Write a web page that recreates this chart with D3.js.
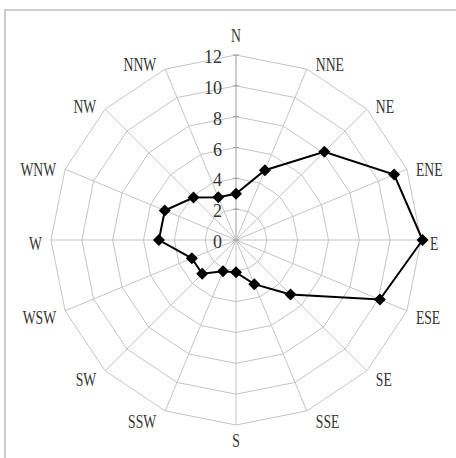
<!DOCTYPE html>
<html>
<head>
<meta charset="utf-8">
<script src="https://cdn.jsdelivr.net/npm/d3@7"></script>
<style>
  body { margin: 0; background: #fff; }
</style>
</head>
<body>
<svg id="chart" width="456" height="458"></svg>
<script>
// wind directions, clockwise from north
var directions = ["N", "NNE", "NE", "ENE", "E", "ESE", "SE", "SSE",
                  "S", "SSW", "SW", "WSW", "W", "WNW", "NW", "NNW"]
var frequency = [3, 4.9, 8.1, 11.1, 12.1, 10.1, 5, 3.1,
                 2.1, 2.2, 3.1, 3.1, 5, 5, 3.9, 3]
var ticks = [0, 2, 4, 6, 8, 10, 12]

var cx = 236, cy = 240, outer = 185
var serif = "'Liberation Serif', 'DejaVu Serif', serif"

var svg = d3.select("#chart")

// the frame, only left and top show
svg.append("rect")
    .attr("x", 5).attr("y", 10)
    .attr("width", 470).attr("height", 470)
    .attr("fill", "none")
    .attr("stroke", "#cccccc")
    .attr("stroke-width", 2)

var r = d3.scaleLinear().domain([0, 12]).range([0, outer])
var angle = d3.scaleLinear().domain([0, directions.length]).range([0, 2 * Math.PI])

var g = svg.append("g").attr("transform", "translate(" + cx + "," + cy + ")")

function px(a, rad) { return rad * Math.sin(a) }
function py(a, rad) { return -rad * Math.cos(a) }

// rings
var ring = d3.lineRadial()
    .angle(function (d, i) { return angle(i) })
    .curve(d3.curveLinearClosed)

ticks.filter(function (t) { return t > 0 }).forEach(function (t) {
  g.append("path")
      .attr("d", ring.radius(r(t))(directions))
      .attr("fill", "none")
      .attr("stroke", "#c4c4c4")
      .attr("stroke-width", 1)
})

// spokes
g.selectAll("line.spoke")
  .data(directions)
  .enter().append("line")
    .attr("class", "spoke")
    .attr("x1", 0).attr("y1", 0)
    .attr("x2", function (d, i) { return px(angle(i), outer) })
    .attr("y2", function (d, i) { return py(angle(i), outer) })
    .attr("stroke", function (d, i) { return i == 0 ? "#9a9a9a" : "#c4c4c4" })
    .attr("stroke-width", 1)

// value axis ticks + labels on the north spoke
ticks.forEach(function (t) {
  g.append("line")
      .attr("x1", -3).attr("x2", 3)
      .attr("y1", -r(t)).attr("y2", -r(t))
      .attr("stroke", "#9a9a9a")
  g.append("text")
      .attr("x", -14)
      .attr("y", -r(t) + 8)
      .attr("text-anchor", "end")
      .attr("font-family", serif)
      .attr("font-size", 18)
      .attr("fill", "#333")
      .text(t)
})

// direction labels
directions.forEach(function (name, i) {
  var a = angle(i)
  var s = Math.sin(a), c = Math.cos(a)
  var x = px(a, outer), y = py(a, outer)
  var anchor = "middle"
  if (Math.abs(s) < 0.01) {
    y += c > 0 ? -20 : 15
  } else {
    anchor = s > 0 ? "start" : "end"
    x += s > 0 ? 9 : -9
    y += -8 * c + 3
  }
  g.append("text")
      .attr("transform", "translate(" + x + "," + y + ") scale(0.72,1)")
      .attr("text-anchor", anchor)
      .attr("dy", "0.35em")
      .attr("font-family", serif)
      .attr("font-size", 19)
      .attr("fill", "#333")
      .text(name)
})

// the series
var line = d3.lineRadial()
    .angle(function (d, i) { return angle(i) })
    .radius(function (d) { return r(d) })
    .curve(d3.curveLinearClosed)

g.append("path")
    .attr("d", line(frequency))
    .attr("fill", "none")
    .attr("stroke", "#000")
    .attr("stroke-width", 2)

var diamond = d3.symbol().type(d3.symbolSquare).size(72)

g.selectAll("path.marker")
  .data(frequency)
  .enter().append("path")
    .attr("class", "marker")
    .attr("d", diamond)
    .attr("transform", function (d, i) {
      return "translate(" + px(angle(i), r(d)) + "," + py(angle(i), r(d)) + ") rotate(45)"
    })
    .attr("fill", "#000")
</script>
</body>
</html>
